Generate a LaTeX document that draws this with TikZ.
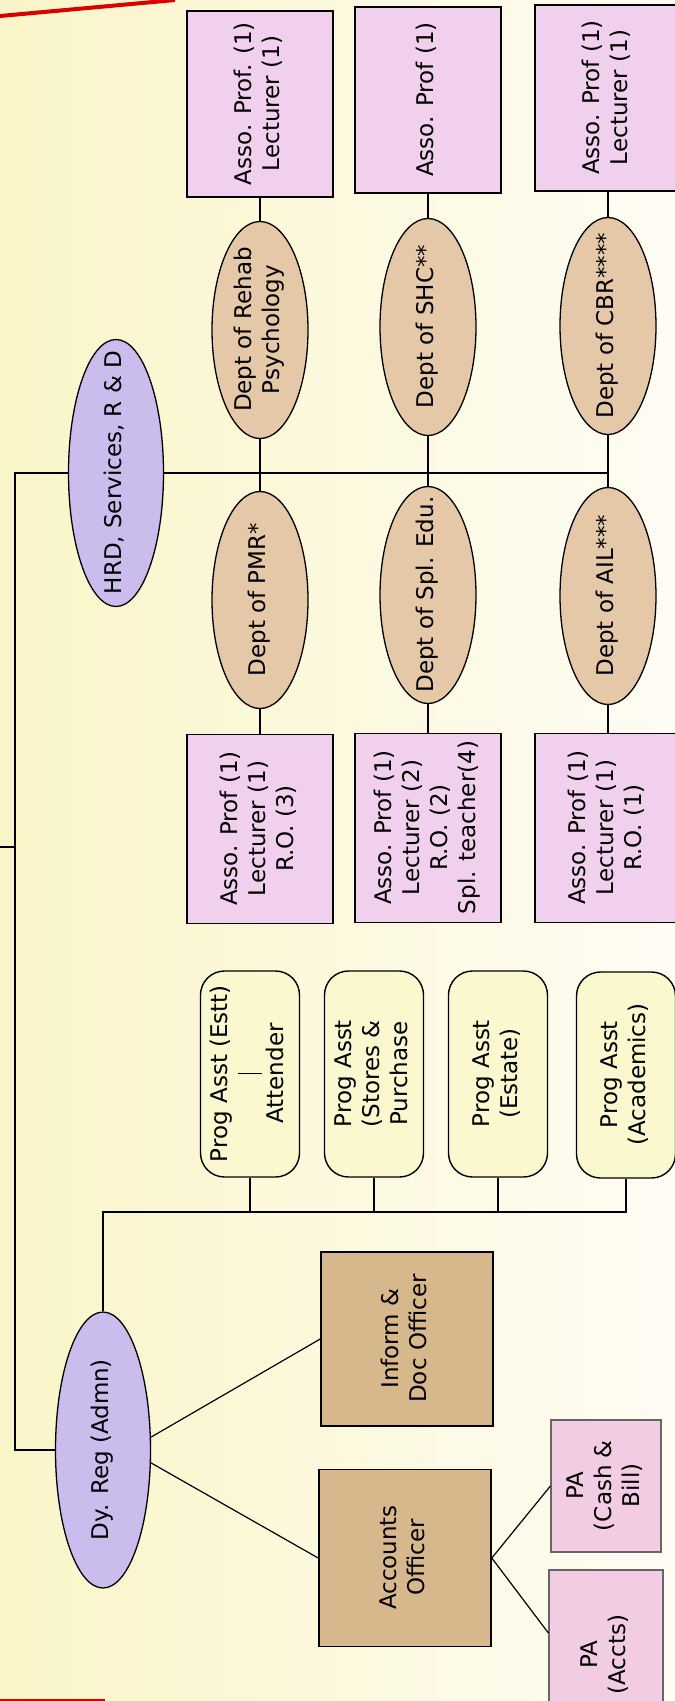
\documentclass[tikz,border=0pt]{standalone}
\usepackage{fontspec}
\setmainfont{DejaVu Sans}
\usepackage{graphicx}
\usetikzlibrary{shapes.geometric}
\definecolor{staffpink}{RGB}{240,208,236}
\definecolor{depttan}{RGB}{228,200,168}
\definecolor{headlilac}{RGB}{202,188,236}
\definecolor{progyellow}{RGB}{250,248,206}
\definecolor{officertan}{RGB}{214,184,140}
\definecolor{papink}{RGB}{242,204,226}
\definecolor{bgyellow}{RGB}{250,245,200}
\definecolor{bgwhite}{RGB}{254,252,244}
\newcommand{\uptext}[1]{\makebox[0pt]{\raisebox{-.25em}[0pt][0pt]{\rotatebox[origin=c]{90}{\begin{tabular}{@{}c@{}}#1\end{tabular}}}}}
\tikzset{
  staffbox/.style={draw,fill=staffpink,line width=1.6pt,inner sep=0pt,minimum width=146pt,minimum height=186pt},
  dept/.style={ellipse,draw,fill=depttan,line width=1.3pt,inner sep=0pt,minimum width=96pt,minimum height=217pt},
  head/.style={ellipse,draw,fill=headlilac,line width=1.3pt,inner sep=0pt,minimum width=95pt},
  progbox/.style={draw,fill=progyellow,rounded corners=24pt,line width=1.4pt,inner sep=0pt,minimum width=99pt,minimum height=206pt},
  officer/.style={draw,fill=officertan,line width=1.6pt,inner sep=0pt,minimum width=172pt,minimum height=174pt},
  pabox/.style={draw=black!60,fill=papink,line width=1.2pt,inner sep=0pt},
  link/.style={line width=1.2pt}
}
\begin{document}
\begin{tikzpicture}[x=1pt,y=-1pt,font=\fontsize{23}{28}\selectfont]
\useasboundingbox (0,0) rectangle (675,1701);
\clip (0,0) rectangle (675,1701);
\shade[left color=bgyellow,right color=bgwhite] (0,0) rectangle (675,1701);
\draw[red!85!black,line width=4pt] (0,16) -- (175,0);
\draw[red!85!black,line width=2pt] (0,1700) -- (105,1700);

\node[staffbox] (rehabstaff) at (260,104) {\uptext{Asso. Prof. (1)\\Lecturer (1)}};
\node[staffbox] (shcstaff) at (428,100) {\uptext{Asso. Prof (1)}};
\node[staffbox] (cbrstaff) at (608,98) {\uptext{Asso. Prof (1)\\Lecturer (1)}};
\node[dept] (rehab) at (260,330) {\uptext{Dept of Rehab\\Psychology}};
\node[dept] (shc) at (428,327) {\uptext{Dept of SHC**}};
\node[dept] (cbr) at (608,326) {\uptext{Dept of CBR****}};
\node[head,minimum height=267pt] (hrd) at (116,473) {\uptext{HRD, Services, R \& D}};
\node[dept] (pmr) at (260,600) {\uptext{Dept of PMR*}};
\node[dept] (spledu) at (428,595) {\uptext{Dept of Spl. Edu.}};
\node[dept] (ail) at (608,596) {\uptext{Dept of AIL***}};
\node[staffbox,minimum height=189pt] (pmrstaff) at (260,829) {\uptext{Asso. Prof (1)\\Lecturer (1)\\R.O. (3)}};
\node[staffbox,minimum height=189pt] (spledustaff) at (428,828) {\uptext{Asso. Prof (1)\\Lecturer (2)\\R.O. (2)\\Spl. teacher(4)}};
\node[staffbox,minimum height=189pt] (ailstaff) at (608,828) {\uptext{Asso. Prof (1)\\Lecturer (1)\\R.O. (1)}};

\node[progbox] (estt) at (250,1074) {\uptext{Prog Asst (Estt)\\\rule[-6pt]{1.2pt}{24pt}\\Attender}};
\node[progbox] (stores) at (374,1074) {\uptext{Prog Asst\\(Stores \&\\Purchase}};
\node[progbox] (estate) at (498,1074) {\uptext{Prog Asst\\(Estate)}};
\node[progbox] (academics) at (626,1075) {\uptext{Prog Asst\\(Academics)}};

\node[head,minimum height=276pt] (dyreg) at (103,1450) {\uptext{Dy. Reg (Admn)}};
\node[officer] (inform) at (407,1339) {\uptext{Inform \&\\Doc Officer}};
\node[officer,minimum height=177pt] (accounts) at (405,1558) {\uptext{Accounts\\Officer}};
\node[pabox,minimum width=110pt,minimum height=132pt] (pacash) at (606,1486) {\uptext{PA\\(Cash \&\\Bill)}};
\node[pabox,minimum width=114pt,minimum height=170pt] (paaccts) at (606,1655) {\uptext{PA\\(Accts)}};

\foreach \a/\b in {rehabstaff/rehab,rehab/pmr,pmr/pmrstaff,shcstaff/shc,shc/spledu,spledu/spledustaff,cbrstaff/cbr,cbr/ail,ail/ailstaff}
  \draw[link] (\a.south) -- (\b.north);
\draw[link] (hrd.east) -- (hrd.east -| cbr.south);
\coordinate (spine) at (15,847);
\coordinate (parent) at (-10,847);
\draw[link] (hrd.west) -| (spine) |- (dyreg.west);
\draw[link] (parent) -- (spine);
\coordinate (progbus) at (103,1212);
\draw[link] (dyreg.north) -- (progbus) -- (progbus -| academics.south) -- (academics.south);
\foreach \n in {estt,stores,estate}
  \draw[link] (\n.south) -- (\n.south |- progbus);
\draw[link] (dyreg.15) -- (inform.west);
\draw[link] (dyreg.-15) -- (accounts.west);
\draw[link] (accounts.east) -- (pacash.west);
\draw[link] (accounts.east) -- ([yshift=22pt]paaccts.west);
\end{tikzpicture}
\end{document}
